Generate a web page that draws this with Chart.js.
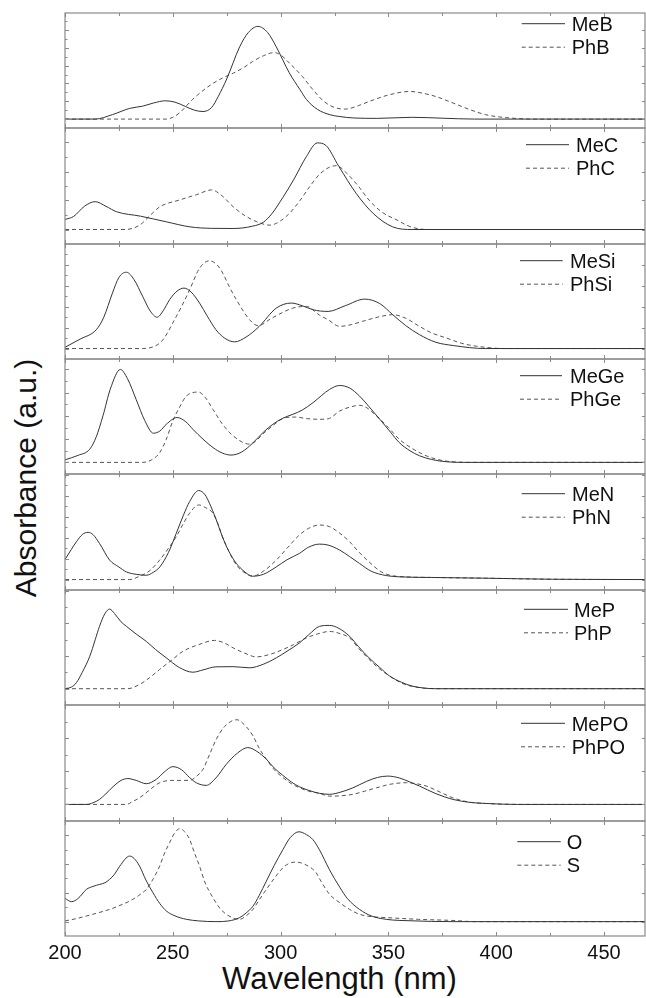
<!DOCTYPE html>
<html><head><meta charset="utf-8">
<script src="https://cdn.jsdelivr.net/npm/chart.js@4.4.1/dist/chart.umd.min.js"></script>
<style>
html,body{margin:0;padding:0;background:#fff;width:646px;height:998px;overflow:hidden;}
#wrap{position:relative;width:646px;height:998px;}
canvas{position:absolute;left:0;}
.t{position:absolute;font-family:"Liberation Sans",Arial,sans-serif;color:#111;white-space:nowrap;text-align:center;width:300px;height:36px;line-height:36px;}
#ytitle{font-size:30px;left:-124.4px;top:460px;transform:rotate(-90deg);}
#xtitle{font-size:31px;left:189.5px;top:961.3px;}
</style></head><body><div id="wrap">
<div class="t" id="ytitle">Absorbance (a.u.)</div>
<div class="t" id="xtitle">Wavelength (nm)</div>
</div>
<script>
// ---------- data ----------
const wavelengthTicks = [200, 250, 300, 350, 400, 450];
const panelLabels = [['MeB','PhB'],['MeC','PhC'],['MeSi','PhSi'],['MeGe','PhGe'],['MeN','PhN'],['MeP','PhP'],['MePO','PhPO'],['O','S']];
const yMaxes = [1.19, 0.70, 1.0, 0.89, 1.01, 0.605, 0.60, 0.70];
const yMin = -0.1;

const meB = [[200,0],[214,0],[222,0.05],[230,0.12],[236,0.145],[241,0.18],[246.5,0.205],[251,0.19],[256,0.14],[260,0.1],[264,0.085],[268,0.13],[271,0.25],[275,0.45],[281,0.81],[285,0.97],[289.5,1.04],[294,0.97],[298,0.81],[304,0.52],[309,0.33],[312,0.22],[317,0.11],[323,0.048],[327,0.03],[334,0.012],[345,0.008],[361,0.02],[375,0.01],[390,0],[469,0]];
const phB = [[200,0],[247,0],[250,0.02],[253,0.067],[259,0.216],[264,0.32],[268.6,0.40],[273,0.46],[278,0.515],[283,0.58],[287,0.645],[292,0.71],[297,0.746],[300,0.72],[304,0.63],[310,0.48],[315,0.33],[320,0.2],[325,0.13],[330,0.112],[336,0.15],[341,0.197],[350,0.27],[360,0.31],[366,0.29],[372,0.253],[380,0.18],[388,0.104],[395,0.05],[403,0.02],[418,0],[469,0]];
const meC = [[200,0.069],[204,0.09],[209,0.16],[214,0.192],[219,0.16],[224,0.122],[235,0.092],[247,0.053],[258,0.018],[268,0.008],[278,0.007],[287,0.023],[292,0.05],[296,0.11],[301,0.22],[306,0.342],[312,0.504],[317,0.597],[321,0.58],[327,0.435],[335,0.25],[343,0.11],[352,0.018],[361,0],[469,0]];
const phC = [[200,0],[228,0],[234.6,0.03],[239,0.09],[244,0.157],[253,0.203],[261,0.24],[268,0.273],[273,0.23],[278,0.157],[283,0.1],[289,0.053],[295,0.03],[300,0.06],[304,0.11],[309,0.2],[313.5,0.296],[318,0.38],[322.7,0.43],[326,0.44],[330.5,0.39],[336,0.3],[341,0.203],[347,0.12],[354,0.065],[360,0.02],[368,0],[469,0]];
const meSi = [[200,0.012],[207,0.09],[214.5,0.18],[218,0.3],[222,0.53],[225,0.68],[228.5,0.73],[232,0.66],[236,0.5],[239.5,0.36],[242.7,0.30],[245.5,0.36],[248.5,0.467],[252,0.55],[255.2,0.578],[258.5,0.54],[262.4,0.435],[266,0.31],[270,0.18],[274,0.1],[278.7,0.064],[284,0.11],[290,0.21],[298,0.387],[305,0.435],[310,0.41],[315,0.371],[322,0.355],[330,0.41],[339,0.473],[346,0.43],[352,0.324],[358,0.22],[364.4,0.133],[372,0.06],[380,0.029],[395,0],[469,0]];
const phSi = [[200,0],[236,0],[243,0.038],[246,0.1],[250,0.245],[254,0.4],[257.8,0.562],[262.4,0.768],[267,0.84],[271,0.79],[273.2,0.72],[276,0.6],[279.5,0.467],[285.6,0.276],[289.5,0.219],[296,0.292],[305.7,0.387],[312,0.403],[318,0.32],[322,0.276],[327.4,0.212],[333,0.23],[338,0.26],[345,0.3],[352,0.324],[358,0.29],[364.4,0.212],[370,0.15],[377,0.10],[384,0.05],[391,0.022],[404,0],[469,0]];
const meGe = [[200,0.022],[206,0.06],[211.5,0.114],[214.5,0.22],[217.6,0.40],[221,0.63],[225.7,0.80],[229,0.72],[233,0.542],[237,0.36],[241,0.251],[244,0.27],[247,0.328],[252,0.386],[256,0.35],[259.3,0.285],[264,0.2],[268.6,0.128],[273,0.08],[277,0.063],[282,0.09],[287,0.165],[292,0.26],[296.4,0.328],[301,0.38],[305.7,0.414],[310,0.45],[315,0.514],[322.7,0.628],[327.4,0.662],[332,0.64],[336.6,0.571],[341,0.48],[346,0.371],[351,0.26],[355,0.171],[360,0.1],[364.4,0.057],[370,0.025],[377,0.005],[385,0],[469,0]];
const phGe = [[200,0],[236,0],[240,0.02],[244,0.086],[247,0.2],[250,0.357],[253,0.47],[256.3,0.571],[262,0.605],[265,0.56],[268.6,0.457],[273,0.33],[278,0.228],[285.6,0.157],[293.4,0.271],[302.6,0.386],[307,0.39],[312,0.377],[318,0.371],[322,0.375],[327.4,0.442],[332,0.475],[336.6,0.491],[340,0.47],[344.4,0.40],[350,0.3],[355,0.2],[361,0.12],[367.5,0.057],[374,0.02],[380,0.005],[390,0],[469,0]];
const meN = [[200,0.192],[203,0.29],[205.3,0.362],[208,0.43],[210.7,0.452],[213,0.43],[216,0.346],[220.7,0.186],[225,0.12],[228.5,0.073],[233,0.05],[237.7,0.041],[241,0.07],[244,0.121],[248,0.26],[251.6,0.442],[255,0.62],[257.8,0.746],[262,0.852],[265,0.81],[267,0.73],[270,0.58],[273,0.41],[276,0.27],[279.5,0.154],[283,0.08],[287,0.032],[292,0.05],[298,0.121],[303,0.19],[308.7,0.25],[313,0.31],[318,0.339],[322,0.33],[327.4,0.282],[332,0.22],[336.6,0.154],[342,0.08],[349,0.038],[355,0.026],[370,0.02],[395,0.013],[426,0.003],[469,0]];
const phN = [[200,0],[230,0],[234.6,0.032],[239,0.08],[243.9,0.186],[248,0.3],[251.6,0.41],[255,0.54],[257.8,0.635],[262,0.714],[265,0.69],[268.6,0.635],[271,0.53],[273,0.41],[276,0.27],[279.5,0.138],[283,0.07],[287,0.032],[292,0.08],[298,0.186],[303,0.3],[308.7,0.426],[313,0.49],[318,0.522],[322.7,0.506],[327,0.45],[332,0.362],[336,0.27],[341,0.169],[347,0.07],[353.6,0.032],[370,0.02],[395,0.013],[426,0.003],[469,0]];
const meP = [[200,0],[203,0.01],[205.3,0.037],[208,0.1],[211.5,0.199],[214,0.3],[216,0.382],[218.5,0.46],[220.7,0.488],[223,0.46],[226,0.41],[228.5,0.382],[233,0.335],[237.7,0.29],[242,0.24],[247,0.189],[253,0.13],[259.3,0.101],[264,0.115],[270,0.134],[278,0.135],[285.6,0.128],[292,0.15],[298,0.189],[303,0.23],[308.7,0.28],[313,0.33],[318,0.382],[322.7,0.388],[327,0.37],[332,0.321],[336,0.26],[341,0.189],[346,0.13],[350.6,0.077],[356,0.04],[361,0.016],[372,0],[469,0]];
const phP = [[200,0],[229,0],[234.6,0.026],[239,0.065],[243.9,0.118],[249,0.17],[254.7,0.229],[262,0.27],[269.4,0.296],[274,0.28],[278,0.25],[283,0.22],[288.7,0.195],[295,0.21],[301,0.24],[306,0.27],[311.9,0.311],[317,0.335],[322.7,0.351],[327,0.34],[332,0.311],[336,0.25],[341,0.18],[346,0.12],[350.6,0.077],[356,0.035],[361,0.014],[366,0.004],[372,0],[469,0]];
const mePO = [[200,0],[210,0],[213,0.01],[216,0.03],[219,0.065],[222.3,0.107],[226,0.145],[229.2,0.156],[233,0.145],[237.7,0.125],[242.4,0.152],[246,0.195],[250,0.228],[254,0.21],[257.8,0.162],[261,0.13],[265.5,0.115],[270,0.16],[274.8,0.242],[280,0.31],[284.8,0.343],[289,0.32],[293.4,0.273],[297,0.22],[301,0.176],[305,0.135],[308.7,0.107],[313,0.085],[318,0.067],[322.7,0.061],[328,0.075],[333.5,0.10],[340,0.14],[345,0.163],[349.7,0.171],[355,0.16],[360,0.135],[364.4,0.111],[372,0.065],[380,0.03],[388,0.012],[395,0.006],[410,0],[469,0]];
const phPO = [[200,0],[228.6,0],[231,0.015],[234.6,0.04],[239,0.085],[243.9,0.131],[250,0.145],[257.8,0.145],[261,0.17],[264,0.212],[267,0.3],[270.2,0.394],[274,0.47],[279.7,0.511],[284,0.47],[287.2,0.414],[290,0.34],[293.4,0.273],[297,0.21],[301.1,0.162],[305,0.125],[308.7,0.101],[313,0.08],[318,0.067],[322.7,0.05],[328,0.052],[333.5,0.061],[339,0.08],[344.4,0.10],[351,0.122],[358.3,0.131],[363,0.125],[367.5,0.111],[373,0.08],[379.9,0.04],[387,0.015],[395,0.006],[410,0],[469,0]];
const oSeries = [[200,0.162],[203,0.139],[206,0.16],[209.9,0.224],[213,0.245],[216.1,0.259],[218.5,0.27],[220.7,0.294],[223,0.33],[225.4,0.386],[230,0.456],[232,0.44],[234.6,0.386],[237.5,0.29],[240.8,0.201],[244,0.125],[247,0.074],[251,0.04],[256.3,0.016],[262,0.005],[270,0],[276,0.005],[281,0.028],[284,0.06],[287.2,0.108],[290,0.18],[293.4,0.282],[297,0.39],[301.1,0.502],[304.5,0.585],[308.5,0.625],[312,0.605],[315,0.57],[318,0.5],[322.7,0.36],[327.4,0.24],[331,0.16],[336.6,0.085],[342,0.04],[349,0.016],[360,0.006],[380,0],[469,0]];
const sSeries = [[200,0.005],[205,0.02],[209.9,0.039],[215,0.06],[220.7,0.085],[225,0.11],[230,0.143],[234,0.18],[237.7,0.224],[241,0.3],[243.9,0.386],[246,0.47],[248.5,0.549],[251,0.62],[253.2,0.646],[255.5,0.625],[257.8,0.572],[260,0.48],[262.4,0.386],[265,0.27],[268.6,0.167],[272,0.09],[274.8,0.051],[278,0.025],[281,0.016],[284,0.04],[287.2,0.085],[290,0.15],[293.4,0.224],[297,0.3],[301.1,0.375],[304,0.405],[307,0.414],[311,0.4],[316.5,0.34],[318,0.3],[322.7,0.19],[327.4,0.132],[332,0.085],[336.6,0.051],[342,0.035],[349,0.028],[364,0.016],[380,0.008],[390,0],[469,0]];

const panelSeries = [[meB,phB],[meC,phC],[meSi,phSi],[meGe,phGe],[meN,phN],[meP,phP],[mePO,phPO],[oSeries,sSeries]];

// ---------- layout / style (not data) ----------
const X_MIN = 200, X_MAX = 469, MINOR_X = 25, Y_STEP = 0.1;
const edges = [13, 128, 244, 359, 474, 590, 705, 821, 936];
const legendPos = [[521.7,565,571.7,10.7],[526,569,576,16.7],[520,562.7,570,16.7],[520,562,570,16.7],[521.7,565,572,19.7],[524,568,574,19.3],[521,565,571.7,18.3],[517.3,560.7,566.7,20.7]];
const LEG_ROW = 23.5;
const FRAME = '#8a8a8a', SOLID = '#333', DASHED = '#555', DASH = [4, 3];
const FONT = '"Liberation Sans", Arial, sans-serif';

const framePlugin = {
  id: 'frame',
  afterDatasetsDraw(chart, args, opts) {
    const ctx = chart.ctx, a = chart.chartArea;
    const xs = chart.scales.x, ys = chart.scales.y;
    ctx.save();
    ctx.strokeStyle = FRAME; ctx.lineWidth = 1.2; ctx.setLineDash([]);
    ctx.strokeRect(a.left, a.top, a.right - a.left, a.bottom - a.top);
    ctx.lineWidth = 1;
    ctx.beginPath();
    for (let v = X_MIN; v <= X_MAX; v += MINOR_X) {
      const px = Math.round(xs.getPixelForValue(v)) + 0.5;
      const len = (v % 50 === 0) ? 4 : 3;
      ctx.moveTo(px, a.bottom); ctx.lineTo(px, a.bottom - len);
      ctx.moveTo(px, a.top); ctx.lineTo(px, a.top + len);
    }
    const kMax = Math.floor((ys.max + 1e-9) / Y_STEP);
    for (let k = Math.ceil(ys.min / Y_STEP) + 1; k <= kMax; k++) {
      const v = k * Y_STEP;
      if (v >= ys.max - 1e-6) continue;
      const py = Math.round(ys.getPixelForValue(v)) + 0.5;
      const major = (k % 2 === 0);
      ctx.moveTo(a.left, py); ctx.lineTo(a.left + (major ? 4 : 2.5), py);
      if (major) { ctx.moveTo(a.right, py); ctx.lineTo(a.right - 3, py); }
    }
    ctx.stroke();
    // legend
    const lp = opts.pos;
    chart.data.datasets.forEach((ds, i) => {
      const y = a.top + lp[3] + i * LEG_ROW;
      ctx.beginPath();
      ctx.strokeStyle = ds.borderColor; ctx.lineWidth = 1;
      ctx.setLineDash(ds.borderDash || []);
      ctx.moveTo(lp[0], y); ctx.lineTo(lp[1], y); ctx.stroke();
      ctx.setLineDash([]);
      ctx.fillStyle = '#111';
      ctx.font = '20px ' + FONT;
      ctx.textBaseline = 'alphabetic'; ctx.textAlign = 'left';
      ctx.fillText(ds.label, lp[2], y + 7.2);
    });
    ctx.restore();
  }
};

const wrap = document.getElementById('wrap');
panelSeries.forEach((pair, i) => {
  const last = (i === panelSeries.length - 1);
  const top = edges[i] - 2;
  const bottomEdge = last ? 998 : edges[i + 1] + 2;
  const cv = document.createElement('canvas');
  cv.width = 646; cv.height = bottomEdge - top;
  cv.style.top = top + 'px';
  wrap.appendChild(cv);
  new Chart(cv, {
    type: 'line',
    data: {
      datasets: pair.map((s, j) => ({
        label: panelLabels[i][j],
        data: s.map(p => ({ x: p[0], y: p[1] })),
        borderColor: j === 0 ? SOLID : DASHED,
        borderWidth: 1,
        borderDash: j === 0 ? [] : DASH,
        pointRadius: 0,
        cubicInterpolationMode: 'monotone',
        fill: false
      }))
    },
    options: {
      responsive: false, animation: false, devicePixelRatio: 1,
      layout: { padding: { left: 65, right: 1, top: 2, bottom: last ? 0 : 2 } },
      plugins: { legend: { display: false }, tooltip: { enabled: false }, frame: { pos: legendPos[i] } },
      scales: {
        x: {
          type: 'linear', min: X_MIN, max: X_MAX, display: last,
          grid: { display: false, drawTicks: false }, border: { display: false },
          afterBuildTicks: sc => { sc.ticks = wavelengthTicks.map(v => ({ value: v })); },
          afterFit: sc => { if (last) sc.height = 998 - edges[8]; },
          ticks: { color: '#111', font: { family: FONT, size: 20 }, padding: 5, maxRotation: 0, autoSkip: false }
        },
        y: { type: 'linear', min: yMin, max: yMaxes[i], display: false, ticks: { stepSize: Y_STEP } }
      }
    },
    plugins: [framePlugin]
  });
});
</script>
</body></html>
